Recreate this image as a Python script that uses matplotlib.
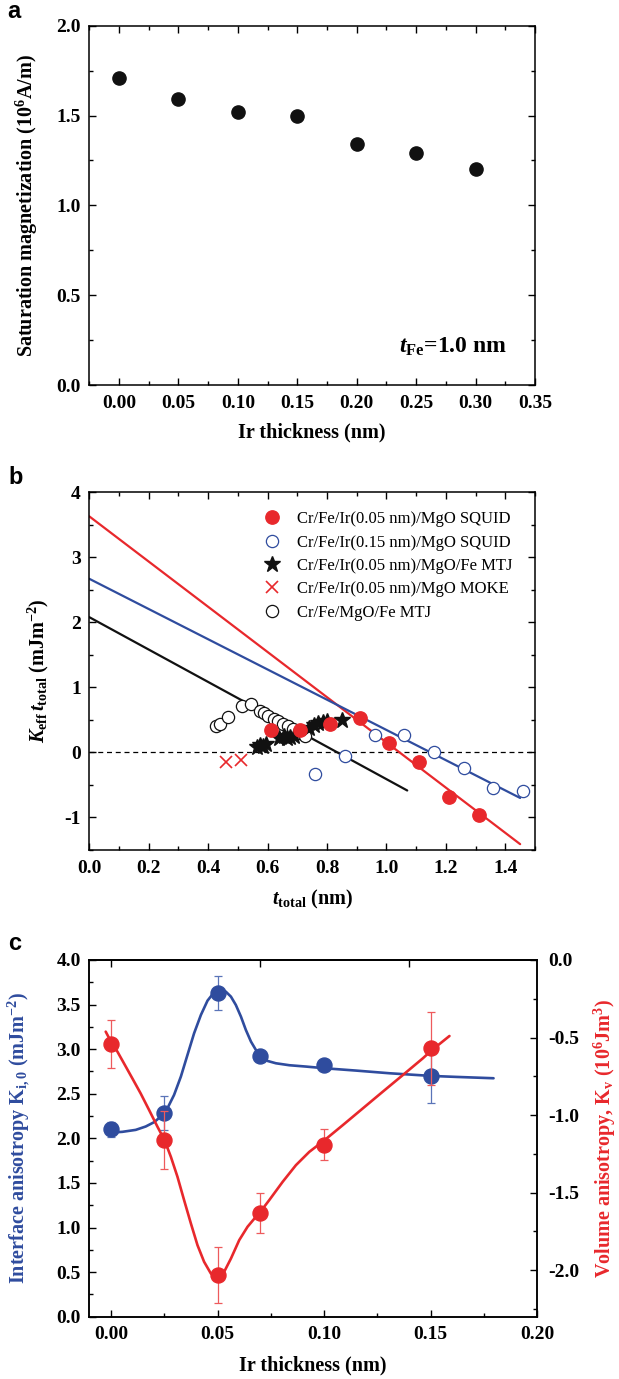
import numpy as np
import matplotlib
matplotlib.use('Agg')
import matplotlib.pyplot as plt
from matplotlib.ticker import MultipleLocator, NullFormatter, FormatStrFormatter

# ---------------- data ----------------
# panel a
a_ir = [0.00, 0.05, 0.10, 0.15, 0.20, 0.25, 0.30]
a_ms = [1.71, 1.59, 1.52, 1.50, 1.34, 1.29, 1.20]

# panel b
b_sq05_t = [0.61, 0.71, 0.81, 0.91, 1.01, 1.11, 1.21, 1.31]
b_sq05_k = [0.34, 0.34, 0.44, 0.53, 0.14, -0.15, -0.68, -0.96]
b_sq15_t = [0.76, 0.86, 0.96, 1.06, 1.16, 1.26, 1.36, 1.46]
b_sq15_k = [-0.33, -0.05, 0.27, 0.27, 0.00, -0.24, -0.54, -0.59]
b_mtj_t = [0.565, 0.575, 0.585, 0.595, 0.64, 0.655, 0.665, 0.675, 0.69,
           0.74, 0.755, 0.77, 0.785, 0.80, 0.85]
b_mtj_k = [0.09, 0.11, 0.10, 0.13, 0.22, 0.25, 0.22, 0.24, 0.26,
           0.38, 0.42, 0.45, 0.47, 0.49, 0.50]
b_moke_t = [0.46, 0.51]
b_moke_k = [-0.14, -0.11]
b_ref_t = [0.427, 0.44, 0.468, 0.513, 0.544, 0.575, 0.588, 0.603, 0.62,
           0.636, 0.653, 0.67, 0.687, 0.71, 0.726]
b_ref_k = [0.40, 0.43, 0.54, 0.71, 0.74, 0.63, 0.61, 0.56, 0.51,
           0.48, 0.44, 0.40, 0.36, 0.30, 0.26]
fit_red_t = [0.0, 1.45]
fit_red_k = [3.63, -1.41]
fit_blue_t = [0.0, 1.45]
fit_blue_k = [2.67, -0.70]
fit_black_t = [0.0, 1.07]
fit_black_k = [2.08, -0.585]
b_labels = ['Cr/Fe/Ir(0.05 nm)/MgO SQUID', 'Cr/Fe/Ir(0.15 nm)/MgO SQUID',
            'Cr/Fe/Ir(0.05 nm)/MgO/Fe MTJ', 'Cr/Fe/Ir(0.05 nm)/MgO MOKE',
            'Cr/Fe/MgO/Fe MTJ']

# panel c
c_ir = [0.00, 0.025, 0.05, 0.07, 0.10, 0.15]
c_ki = [2.10, 2.28, 3.63, 2.92, 2.82, 2.70]
c_ki_err = [0.08, 0.19, 0.195, 0.05, 0.04, 0.30]
c_kv = [-0.54, -1.16, -2.03, -1.63, -1.19, -0.57]
c_kv_err = [0.155, 0.185, 0.182, 0.129, 0.102, 0.234]
c_ki_curve_x = [0.0, 0.0053, 0.0116, 0.0163, 0.0202, 0.0234, 0.0265, 0.0296, 0.0328,
                0.0359, 0.0390, 0.0422, 0.0453, 0.0484, 0.0516, 0.0539, 0.0563,
                0.0586, 0.0610, 0.0633, 0.0657, 0.0680, 0.0704, 0.0735, 0.0774,
                0.0837, 0.0915, 0.1003, 0.1150, 0.1307, 0.1503, 0.1621, 0.1796]
c_ki_curve_y = [2.065, 2.073, 2.095, 2.133, 2.181, 2.245, 2.338, 2.487, 2.693,
                2.936, 3.178, 3.384, 3.544, 3.638, 3.664, 3.645, 3.589,
                3.496, 3.365, 3.216, 3.085, 2.992, 2.917, 2.868, 2.842,
                2.820, 2.805, 2.786, 2.760, 2.730, 2.700, 2.689, 2.674]
c_kv_curve_x = [-0.0025, 0.0, 0.0030, 0.0061, 0.0100, 0.0139, 0.0179, 0.0218, 0.0251,
                0.0281, 0.0312, 0.0343, 0.0375, 0.0406, 0.0437, 0.0469, 0.0500,
                0.0531, 0.0563, 0.0602, 0.0641, 0.0680, 0.0701, 0.0743, 0.0806,
                0.0868, 0.0931, 0.1003, 0.1088, 0.1182, 0.1276, 0.1370, 0.1464,
                0.1503, 0.1542, 0.1589]
c_kv_curve_y = [-0.462, -0.527, -0.591, -0.667, -0.763, -0.860, -0.968, -1.075, -1.161,
                -1.269, -1.398, -1.548, -1.699, -1.839, -1.946, -2.022, -2.047,
                -2.011, -1.925, -1.806, -1.720, -1.656, -1.624, -1.548, -1.430,
                -1.323, -1.237, -1.161, -1.065, -0.957, -0.849, -0.742, -0.634,
                -0.585, -0.542, -0.490]

RED = '#e8282c'
BLUE = '#2f4c9e'

# ---------------- style ----------------
plt.rcParams.update({
    'font.family': 'Liberation Serif',
    'font.weight': 'bold',
    'axes.labelweight': 'bold',
    'mathtext.fontset': 'custom',
    'mathtext.rm': 'Liberation Serif:bold',
    'mathtext.it': 'Liberation Serif:italic:bold',
    'mathtext.bf': 'Liberation Serif:bold',
    'axes.linewidth': 1.1,
    'xtick.direction': 'in', 'ytick.direction': 'in',
    'xtick.major.size': 5, 'ytick.major.size': 5,
    'xtick.minor.size': 3, 'ytick.minor.size': 3,
    'xtick.major.width': 1.0, 'ytick.major.width': 1.0,
    'xtick.minor.width': 1.0, 'ytick.minor.width': 1.0,
    'xtick.labelsize': 14, 'ytick.labelsize': 14,
    'xtick.major.pad': 7, 'ytick.major.pad': 6,
    'lines.solid_capstyle': 'round',
})

W, H = 619, 1379
fig = plt.figure(figsize=(W / 100, H / 100), dpi=100)


def axes_px(left, right, top, bottom):
    return fig.add_axes([left / W, 1 - bottom / H, (right - left) / W, (bottom - top) / H])


LBL = 14.5

# ---------------- panel a ----------------
ax = axes_px(89.3, 535, 25.7, 385)
ax.plot(a_ir, a_ms, 'o', color='#111111', ms=9.5, mec='#111111')
ax.set_xlim(-0.025, 0.35)
ax.set_ylim(0, 2.0)
ax.xaxis.set_major_locator(MultipleLocator(0.05))
ax.xaxis.set_minor_locator(MultipleLocator(0.025))
ax.yaxis.set_major_locator(MultipleLocator(0.5))
ax.yaxis.set_minor_locator(MultipleLocator(0.25))
ax.xaxis.set_major_formatter(FormatStrFormatter('%.2f'))
ax.yaxis.set_major_formatter(FormatStrFormatter('%.1f'))
ax.tick_params(which='both', top=True, right=True)
ax.set_xlabel('Ir thickness (nm)', fontsize=LBL)
ax.set_ylabel('Saturation magnetization (10$^{6}$A/m)', fontsize=LBL)
ax.xaxis.set_label_coords(0.5, -0.103)
ax.yaxis.set_label_coords(-0.11, 0.5)
ax.text(0.937, 0.09, r'$t_{\rm Fe}$=1.0 nm', transform=ax.transAxes, ha='right',
        va='baseline', fontsize=17)
fig.text(14 / W, 1 - 12 / H, 'a', family='Liberation Sans', weight='bold',
         fontsize=17, ha='center', va='center')

# ---------------- panel b ----------------
ax = axes_px(89.3, 535, 492.3, 850)
ax.axhline(0, color='k', lw=0.9, ls=(0, (4, 3)), zorder=1)
ax.plot(fit_red_t, fit_red_k, color=RED, lw=1.6, zorder=2)
ax.plot(fit_blue_t, fit_blue_k, color=BLUE, lw=1.6, zorder=2)
ax.plot(fit_black_t, fit_black_k, color='#111111', lw=1.6, zorder=2)
h_ref, = ax.plot(b_ref_t, b_ref_k, 'o', ms=8.8, mfc='white', mec='#111111', mew=0.9,
                 zorder=3)
h_mtj, = ax.plot(b_mtj_t, b_mtj_k, '*', ms=12, color='#111111', mec='#111111',
                 zorder=4)
h_sq05, = ax.plot(b_sq05_t, b_sq05_k, 'o', ms=9.6, color=RED, mec=RED, zorder=5)
h_sq15, = ax.plot(b_sq15_t, b_sq15_k, 'o', ms=8.8, mfc='white', mec=BLUE, mew=0.9,
                  zorder=5)
h_moke, = ax.plot(b_moke_t, b_moke_k, 'x', ms=8.5, mew=1.2, color=RED, zorder=5)
ax.set_xlim(0, 1.5)
ax.set_ylim(-1.5, 4)
ax.xaxis.set_major_locator(MultipleLocator(0.2))
ax.xaxis.set_minor_locator(MultipleLocator(0.1))
ax.yaxis.set_major_locator(MultipleLocator(1))
ax.yaxis.set_minor_locator(MultipleLocator(0.5))
ax.xaxis.set_major_formatter(FormatStrFormatter('%.1f'))
ax.yaxis.set_major_formatter(FormatStrFormatter('%d'))
ax.tick_params(which='both', top=True, right=True)
ax.set_xlabel(r'$t_{\rm total}$ (nm)', fontsize=LBL)
ax.set_ylabel(r'$K_{\rm eff}\,t_{\rm total}$ (mJm$^{-2}$)', fontsize=LBL)
ax.xaxis.set_label_coords(0.5, -0.105)
ax.yaxis.set_label_coords(-0.086, 0.5)
ax.legend([h_sq05, h_sq15, h_mtj, h_moke, h_ref], b_labels,
          loc='upper left', bbox_to_anchor=(0.391, 0.947), frameon=False,
          borderaxespad=0, borderpad=0, handlelength=1.0, handletextpad=1.0,
          labelspacing=0.44, prop={'family': 'Liberation Serif', 'weight': 'normal',
                                   'size': 12})
fig.text(16 / W, 1 - 477 / H, 'b', family='Liberation Sans', weight='bold',
         fontsize=17, ha='center', va='center')

# ---------------- panel c ----------------
ax = axes_px(89.3, 537, 960, 1316.7)
ax2 = ax.twinx()
ax.plot(c_ki_curve_x, c_ki_curve_y, color=BLUE, lw=1.9, zorder=2)
ax.errorbar(c_ir, c_ki, yerr=c_ki_err, fmt='o', ms=10.8, color=BLUE, mec=BLUE,
            ecolor='#5a74b8', elinewidth=0.9, capsize=3, capthick=0.9, zorder=3)
ax2.plot(c_kv_curve_x, c_kv_curve_y, color=RED, lw=1.9, zorder=2)
ax2.errorbar(c_ir, c_kv, yerr=c_kv_err, fmt='o', ms=10.8, color=RED, mec=RED,
             ecolor='#ee5a5c', elinewidth=0.9, capsize=3, capthick=0.9, zorder=3)
ax.set_xlim(-0.0102, 0.20)
ax.set_ylim(0, 4.0)
ax2.set_ylim(-2.30, 0.0)
ax.xaxis.set_major_locator(MultipleLocator(0.05))
ax.xaxis.set_minor_locator(MultipleLocator(0.025))
ax.yaxis.set_major_locator(MultipleLocator(0.5))
ax.yaxis.set_minor_locator(MultipleLocator(0.25))
ax2.yaxis.set_major_locator(MultipleLocator(0.5))
ax2.yaxis.set_minor_locator(MultipleLocator(0.25))
ax.xaxis.set_major_formatter(FormatStrFormatter('%.2f'))
ax.yaxis.set_major_formatter(FormatStrFormatter('%.1f'))
ax2.yaxis.set_major_formatter(FormatStrFormatter('%.1f'))
ax.tick_params(which='both', top=False, right=False)
ax2.tick_params(which='both', right=True, pad=8)
sec = ax.secondary_xaxis('top')
sec.set_xticks([0.0, 0.07, 0.14])
sec.xaxis.set_minor_locator(matplotlib.ticker.NullLocator())
sec.tick_params(direction='in', length=5, labeltop=False)
sec.xaxis.set_major_formatter(NullFormatter())
ax.set_xlabel('Ir thickness (nm)', fontsize=LBL)
ax.set_ylabel(r'Interface anisotropy K$_{\rm i,0}$ (mJm$^{-2}$)', fontsize=LBL, color=BLUE)
ax2.set_ylabel(r'Volume anisotropy, K$_{\rm v}$ (10$^{6}$Jm$^{3}$)', fontsize=LBL, color=RED)
ax.xaxis.set_label_coords(0.5, -0.11)
ax.yaxis.set_label_coords(-0.128, 0.5)
ax2.yaxis.set_label_coords(1.122, 0.5)
fig.text(15 / W, 1 - 943 / H, 'c', family='Liberation Sans', weight='bold',
         fontsize=17, ha='center', va='center')

fig.savefig('out.png', dpi=100)
